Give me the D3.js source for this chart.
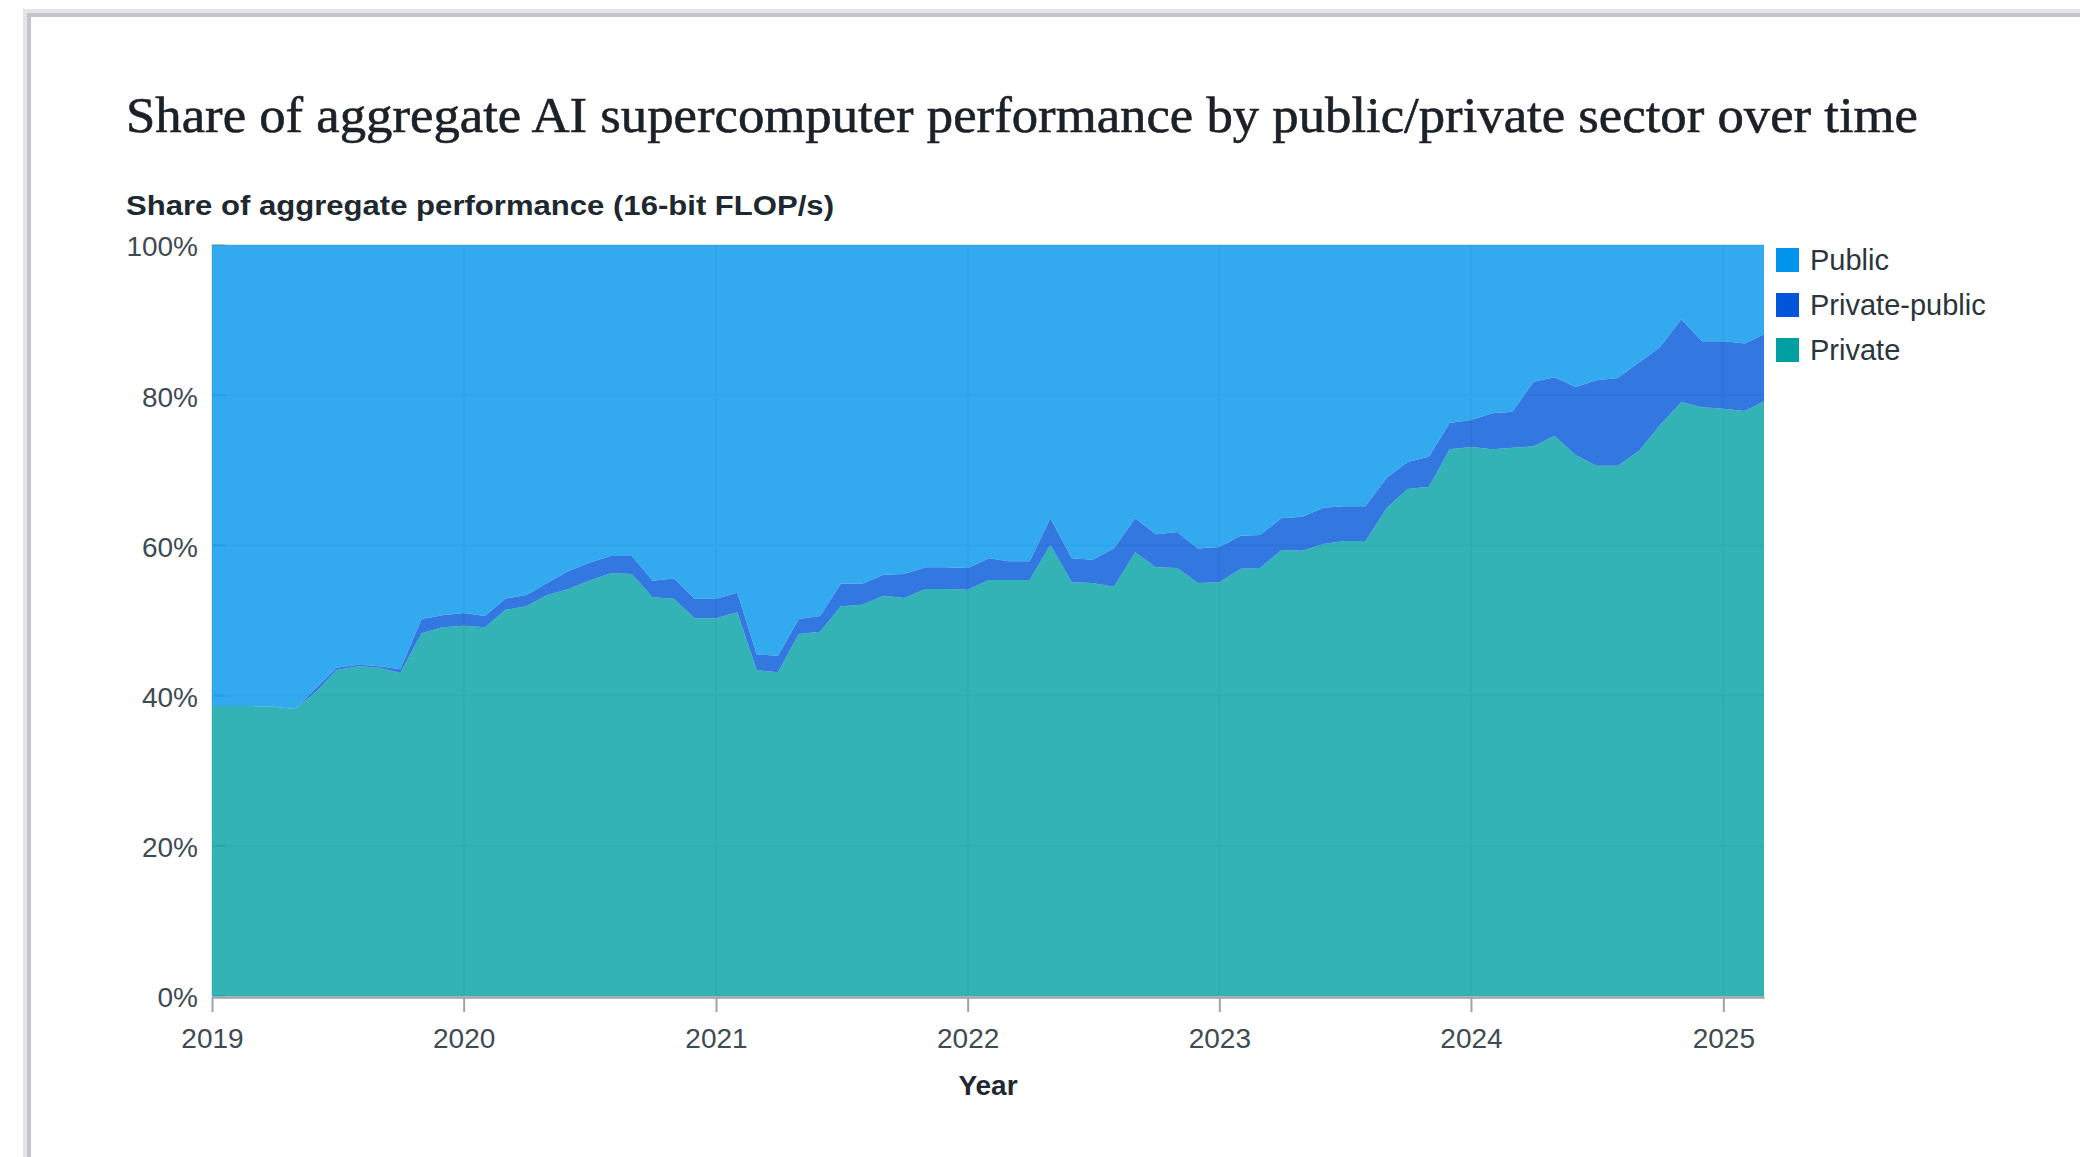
<!DOCTYPE html>
<html>
<head>
<meta charset="utf-8">
<script src="https://cdn.jsdelivr.net/npm/d3@7"></script>
<style>
  body { margin: 0; background: #ffffff; }
  svg { display: block; }
</style>
</head>
<body>
<svg id="chart" width="2080" height="1157"></svg>
<script>
// data, monthly shares in %
const months = [
  "2019-01","2019-02","2019-03","2019-04","2019-05","2019-06","2019-07","2019-08","2019-09","2019-10","2019-11","2019-12",
  "2020-01","2020-02","2020-03","2020-04","2020-05","2020-06","2020-07","2020-08","2020-09","2020-10","2020-11","2020-12",
  "2021-01","2021-02","2021-03","2021-04","2021-05","2021-06","2021-07","2021-08","2021-09","2021-10","2021-11","2021-12",
  "2022-01","2022-02","2022-03","2022-04","2022-05","2022-06","2022-07","2022-08","2022-09","2022-10","2022-11","2022-12",
  "2023-01","2023-02","2023-03","2023-04","2023-05","2023-06","2023-07","2023-08","2023-09","2023-10","2023-11","2023-12",
  "2024-01","2024-02","2024-03","2024-04","2024-05","2024-06","2024-07","2024-08","2024-09","2024-10","2024-11","2024-12",
  "2025-01","2025-02","2025-03"
];

const privateShare = [
  38.6, 38.6, 38.6, 38.5, 38.2, 40.5, 43.4, 43.9, 43.7, 43.0, 48.3, 49.1,
  49.3, 49.1, 51.4, 51.9, 53.4, 54.2, 55.3, 56.3, 56.2, 53.1, 52.9, 50.3,
  50.3, 51.1, 43.4, 43.1, 48.2, 48.5, 51.9, 52.1, 53.3, 53.0, 54.2, 54.2,
  54.1, 55.4, 55.4, 55.4, 60.1, 55.1, 55.0, 54.5, 59.1, 57.1, 57.0, 55.0,
  55.1, 56.9, 57.0, 59.4, 59.3, 60.2, 60.6, 60.6, 65.0, 67.5, 67.8, 72.8,
  73.1, 72.8, 73.0, 73.2, 74.6, 72.0, 70.6, 70.6, 72.6, 76.0, 79.1, 78.4,
  78.2, 77.9, 79.2
];

const privatePublicShare = [
  0.0, 0.0, 0.0, 0.0, 0.0, 0.5, 0.3, 0.2, 0.2, 0.5, 1.9, 1.6,
  1.7, 1.5, 1.5, 1.5, 1.6, 2.4, 2.4, 2.3, 2.4, 2.2, 2.7, 2.6,
  2.6, 2.6, 2.1, 2.2, 2.0, 2.1, 3.0, 2.8, 2.8, 3.2, 2.9, 2.9,
  2.9, 2.9, 2.5, 2.5, 3.5, 3.2, 3.1, 5.1, 4.5, 4.4, 4.8, 4.6,
  4.7, 4.4, 4.4, 4.2, 4.5, 4.8, 4.6, 4.6, 4.0, 3.6, 4.0, 3.5,
  3.6, 4.8, 4.8, 8.6, 7.8, 9.1, 11.4, 11.7, 11.8, 10.4, 11.0, 8.8,
  9.0, 9.0, 8.9
];

const publicShare = [
  61.4, 61.4, 61.4, 61.5, 61.8, 59.0, 56.3, 55.9, 56.1, 56.5, 49.8, 49.3,
  49.0, 49.4, 47.1, 46.6, 45.0, 43.4, 42.3, 41.4, 41.4, 44.7, 44.4, 47.1,
  47.1, 46.3, 54.5, 54.7, 49.8, 49.4, 45.1, 45.1, 43.9, 43.8, 42.9, 42.9,
  43.0, 41.7, 42.1, 42.1, 36.4, 41.7, 41.9, 40.4, 36.4, 38.5, 38.2, 40.4,
  40.2, 38.7, 38.6, 36.4, 36.2, 35.0, 34.8, 34.8, 31.0, 28.9, 28.2, 23.7,
  23.3, 22.4, 22.2, 18.2, 17.6, 18.9, 18.0, 17.7, 15.6, 13.6, 9.9, 12.8,
  12.8, 13.1, 11.9
];

const sectors = ["Private", "Private-public", "Public"];
const legendOrder = ["Public", "Private-public", "Private"];
const sectorColors = { "Public": "#0094ec", "Private-public": "#0055d8", "Private": "#00a0a2" };
const yTicks = [0, 20, 40, 60, 80, 100];
const yearTicks = ["2019", "2020", "2021", "2022", "2023", "2024", "2025"];

const titleText = "Share of aggregate AI supercomputer performance by public/private sector over time";
const yAxisTitle = "Share of aggregate performance (16-bit FLOP/s)";
const xAxisTitle = "Year";

const sansFont = "'Liberation Sans', Arial, sans-serif";
const serifFont = "'Liberation Serif', 'DejaVu Serif', serif";

const svg = d3.select("#chart");
const parseMonth = d3.timeParse("%Y-%m");
const parseYear = d3.timeParse("%Y");

const rows = months.map((m, i) => ({
  date: parseMonth(m),
  "Private": privateShare[i],
  "Private-public": privatePublicShare[i],
  "Public": publicShare[i]
}));

// plot box
const plotLeft = 212, plotRight = 1764, plotTop = 245, plotBottom = 996;

const x = d3.scaleTime()
  .domain([parseMonth(months[0]), parseMonth(months[months.length - 1])])
  .range([plotLeft, plotRight]);
const y = d3.scaleLinear().domain([0, 100]).range([plotBottom, plotTop]);

// card frame from the screenshot
svg.append("rect")
  .attr("x", 26).attr("y", 12)
  .attr("width", 2200).attr("height", 1300)
  .attr("fill", "none")
  .attr("stroke", "#e4e4e8")
  .attr("stroke-width", 6);
svg.append("rect")
  .attr("x", 29).attr("y", 15)
  .attr("width", 2200).attr("height", 1300)
  .attr("fill", "#ffffff")
  .attr("stroke", "#c4c4c9")
  .attr("stroke-width", 4);

// title
svg.append("text")
  .attr("x", 126).attr("y", 132)
  .attr("font-family", serifFont)
  .attr("font-size", 50)
  .attr("fill", "#1b2127")
  .attr("stroke", "#1b2127")
  .attr("stroke-width", 0.6)
  .attr("textLength", 1792)
  .attr("lengthAdjust", "spacingAndGlyphs")
  .text(titleText);

svg.append("text")
  .attr("x", 126).attr("y", 215)
  .attr("font-family", sansFont)
  .attr("font-size", 28)
  .attr("font-weight", 700)
  .attr("fill", "#1d2830")
  .attr("textLength", 708)
  .attr("lengthAdjust", "spacingAndGlyphs")
  .text(yAxisTitle);

// grid under the (semi transparent) areas
const grid = svg.append("g");
grid.selectAll(".hgrid")
  .data(yTicks)
  .join("line")
  .attr("x1", plotLeft).attr("x2", plotRight)
  .attr("y1", d => y(d)).attr("y2", d => y(d))
  .attr("stroke", "#e3e7ea")
  .attr("stroke-width", 2);
grid.selectAll(".hmark")
  .data(yTicks)
  .join("line")
  .attr("x1", plotLeft).attr("x2", plotLeft + 13)
  .attr("y1", d => y(d)).attr("y2", d => y(d))
  .attr("stroke", "#b8c0c5")
  .attr("stroke-width", 2);
grid.selectAll(".vgrid")
  .data(yearTicks)
  .join("line")
  .attr("x1", d => x(parseYear(d))).attr("x2", d => x(parseYear(d)))
  .attr("y1", plotTop).attr("y2", plotBottom)
  .attr("stroke", "#e3e7ea")
  .attr("stroke-width", 2);

// stacked areas
const stacked = d3.stack().keys(sectors)(rows);
const area = d3.area()
  .x(d => x(d.data.date))
  .y0(d => y(d[0]))
  .y1(d => y(d[1]));

svg.append("g")
  .selectAll("path")
  .data(stacked)
  .join("path")
  .attr("d", area)
  .attr("fill", d => sectorColors[d.key])
  .attr("fill-opacity", 0.8);

// x axis
const xAxis = svg.append("g")
  .attr("transform", `translate(0,${plotBottom + 1})`)
  .call(d3.axisBottom(x)
    .tickValues(yearTicks.map(parseYear))
    .tickFormat(d3.timeFormat("%Y"))
    .tickSize(15)
    .tickPadding(16)
    .tickSizeOuter(0));
xAxis.select(".domain").attr("stroke", "#9aa5ab").attr("stroke-width", 2.5);
xAxis.selectAll(".tick line").attr("stroke", "#9aa5ab").attr("stroke-width", 2);
xAxis.selectAll(".tick text")
  .attr("font-family", sansFont)
  .attr("font-size", 28)
  .attr("fill", "#3f4b53");

// y axis labels only
const yAxis = svg.append("g")
  .attr("transform", `translate(${plotLeft},2)`)
  .call(d3.axisLeft(y)
    .tickValues(yTicks)
    .tickFormat(d => d + "%")
    .tickSize(0)
    .tickPadding(14));
yAxis.select(".domain").remove();
yAxis.selectAll(".tick text")
  .attr("font-family", sansFont)
  .attr("font-size", 28)
  .attr("fill", "#3f4b53");

svg.append("text")
  .attr("x", (plotLeft + plotRight) / 2)
  .attr("y", 1095)
  .attr("text-anchor", "middle")
  .attr("font-family", sansFont)
  .attr("font-size", 28)
  .attr("font-weight", 700)
  .attr("fill", "#1d2830")
  .text(xAxisTitle);

// legend
const legend = svg.append("g")
  .attr("transform", "translate(1776,248)");
const item = legend.selectAll("g")
  .data(legendOrder)
  .join("g")
  .attr("transform", (d, i) => `translate(0,${i * 45})`);
item.append("rect")
  .attr("width", 23).attr("height", 24)
  .attr("fill", d => sectorColors[d]);
item.append("text")
  .attr("x", 34).attr("y", 12)
  .attr("dy", "0.36em")
  .attr("font-family", sansFont)
  .attr("font-size", 29)
  .attr("fill", "#2a353c")
  .text(d => d);
</script>
</body>
</html>
